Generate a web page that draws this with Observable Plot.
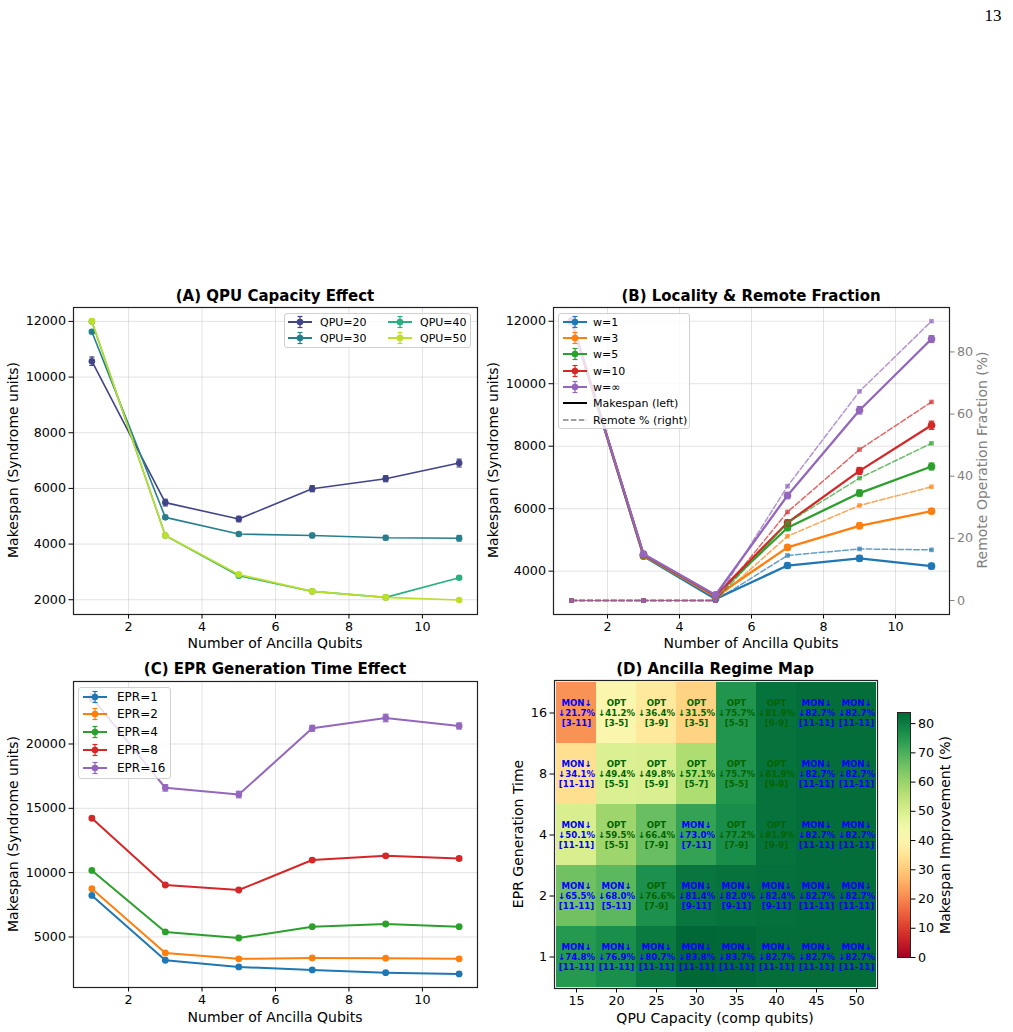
<!DOCTYPE html>
<html>
<head>
<meta charset="utf-8">
<script src="https://cdn.jsdelivr.net/npm/d3@7"></script>
<script src="https://cdn.jsdelivr.net/npm/@observablehq/plot@0.6"></script>
<style>
  body { margin: 0; background: #fff; }
  #root { position: relative; width: 1013px; height: 1032px; overflow: hidden; background: #fff;
          font-family: "DejaVu Sans", sans-serif; color: #000; }
  .lbl { position: absolute; white-space: nowrap; line-height: 1; }
  .legend { position: absolute; box-sizing: border-box; border: 1px solid #d0d0d0; border-radius: 3px;
            background: rgba(255,255,255,0.8); }
  #root svg text { font-family: "DejaVu Sans", sans-serif; }
</style>
</head>
<body>
<div id="root"></div>
<script>
// ---------------- DATA ----------------
const ancilla = [1, 3, 5, 7, 9, 11];
const xTicks = [2, 4, 6, 8, 10];

// (A) QPU capacity effect
const qpuLabels = ["QPU=20", "QPU=30", "QPU=40", "QPU=50"];
const qpu20 = [10570, 5490, 4900, 5990, 6350, 6910];
const qpu30 = [11630, 4960, 4360, 4310, 4230, 4210];
const qpu40 = [12000, 4310, 2860, 2300, 2085, 2790];
const qpu50 = [12010, 4310, 2910, 2300, 2085, 1990];
const qpu20Err = [150, 120, 100, 110, 110, 140];
const qpu30Err = [60, 70, 60, 80, 80, 100];
const qpu40Err = [40, 40, 60, 50, 40, 60];
const qpu50Err = [40, 40, 40, 40, 40, 40];
const aYTicks = [2000, 4000, 6000, 8000, 10000, 12000];

// (B) Locality & remote fraction
const wLabels = ["w=1", "w=3", "w=5", "w=10", "w=\u221e"];
const makespanW1 = [12000, 4480, 3110, 4180, 4410, 4160];
const makespanW3 = [12000, 4500, 3180, 4760, 5450, 5920];
const makespanW5 = [12000, 4520, 3220, 5390, 6500, 7350];
const makespanW10 = [12000, 4530, 3220, 5550, 7210, 8670];
const makespanWinf = [12000, 4550, 3240, 6420, 9150, 11430];
const makespanW1Err = [80, 60, 50, 80, 90, 90];
const makespanW3Err = [80, 60, 50, 80, 90, 80];
const makespanW5Err = [80, 60, 50, 90, 100, 110];
const makespanW10Err = [80, 60, 50, 90, 110, 130];
const makespanWinfErr = [80, 60, 50, 100, 120, 110];
const remoteW1 = [0, 0, 0, 14.5, 16.6, 16.3];
const remoteW3 = [0, 0, 0, 20.7, 30.6, 36.6];
const remoteW5 = [0, 0, 0, 25.0, 39.4, 50.6];
const remoteW10 = [0, 0, 0, 28.5, 48.6, 63.9];
const remoteWinf = [0, 0, 0, 36.8, 67.3, 89.9];
const bYTicks = [4000, 6000, 8000, 10000, 12000];
const bRightTicks = [0, 20, 40, 60, 80];

// (C) EPR generation time effect
const eprLabels = ["EPR=1", "EPR=2", "EPR=4", "EPR=8", "EPR=16"];
const epr1 = [8230, 3190, 2670, 2440, 2230, 2130];
const epr2 = [8750, 3760, 3300, 3370, 3350, 3300];
const epr4 = [10170, 5390, 4920, 5800, 6010, 5800];
const epr8 = [14230, 9040, 8650, 10980, 11310, 11100];
const epr16 = [23600, 16590, 16070, 21220, 22020, 21400];
const epr1Err = [60, 50, 40, 40, 40, 40];
const epr2Err = [60, 50, 40, 40, 40, 40];
const epr4Err = [80, 60, 60, 60, 70, 60];
const epr8Err = [120, 100, 100, 120, 130, 120];
const epr16Err = [300, 250, 250, 230, 290, 230];
const cYTicks = [5000, 10000, 15000, 20000];

// (D) Ancilla regime map
const qpuCaps = [15, 20, 25, 30, 35, 40, 45, 50];
const eprTimes = [16, 8, 4, 2, 1];
const improvements = [
  [21.7, 41.2, 36.4, 31.5, 75.7, 81.9, 82.7, 82.7],
  [34.1, 49.4, 49.8, 57.1, 75.7, 81.9, 82.7, 82.7],
  [50.1, 59.5, 66.4, 73.0, 77.2, 81.9, 82.7, 82.7],
  [65.5, 68.0, 76.6, 81.4, 82.0, 82.4, 82.7, 82.7],
  [74.8, 76.9, 80.7, 83.8, 83.7, 82.7, 82.7, 82.7]
];
const regimes = [
  ["MON\u2193", "OPT", "OPT", "OPT", "OPT", "OPT", "MON\u2193", "MON\u2193"],
  ["MON\u2193", "OPT", "OPT", "OPT", "OPT", "OPT", "MON\u2193", "MON\u2193"],
  ["MON\u2193", "OPT", "OPT", "MON\u2193", "OPT", "OPT", "MON\u2193", "MON\u2193"],
  ["MON\u2193", "MON\u2193", "OPT", "MON\u2193", "MON\u2193", "MON\u2193", "MON\u2193", "MON\u2193"],
  ["MON\u2193", "MON\u2193", "MON\u2193", "MON\u2193", "MON\u2193", "MON\u2193", "MON\u2193", "MON\u2193"]
];
const ranges = [
  ["3-11", "3-5", "3-9", "3-5", "5-5", "9-9", "11-11", "11-11"],
  ["11-11", "5-5", "5-9", "5-7", "5-5", "9-9", "11-11", "11-11"],
  ["11-11", "5-5", "7-9", "7-11", "7-9", "9-9", "11-11", "11-11"],
  ["11-11", "5-11", "7-9", "9-11", "9-11", "9-11", "11-11", "11-11"],
  ["11-11", "11-11", "11-11", "11-11", "11-11", "11-11", "11-11", "11-11"]
];
const colorbarTicks = [0, 10, 20, 30, 40, 50, 60, 70, 80];

// ---------------- STYLE ----------------
const viridisColors = ["#414487", "#277f8e", "#2ab07f", "#bddf26"];
const tab10 = ["#1f77b4", "#ff7f0e", "#2ca02c", "#d62728", "#9467bd"];
const FONT = "DejaVu Sans";
const TICK_FS = 12.7;
const root = document.getElementById("root");

function rowsOf(values, errs) {
  return ancilla.map((x, j) => ({ x, y: values[j], e: errs ? errs[j] : 0 }));
}

function errSeriesMarks(rows, color, lw, r, cap) {
  return [
    Plot.ruleX(rows, { x: "x", y1: d => d.y - d.e, y2: d => d.y + d.e, stroke: color, strokeWidth: 1.2 }),
    Plot.link(rows, { x1: d => d.x - cap, x2: d => d.x + cap, y1: d => d.y + d.e, y2: d => d.y + d.e, stroke: color, strokeWidth: 1.2 }),
    Plot.link(rows, { x1: d => d.x - cap, x2: d => d.x + cap, y1: d => d.y - d.e, y2: d => d.y - d.e, stroke: color, strokeWidth: 1.2 }),
    Plot.line(rows, { x: "x", y: "y", stroke: color, strokeWidth: lw }),
    Plot.dot(rows, { x: "x", y: "y", fill: color, r })
  ];
}

function place(node, left, top) {
  node.style.position = "absolute";
  node.style.left = left + "px";
  node.style.top = top + "px";
  root.appendChild(node);
}

function baseStyle() {
  return `font-family: ${FONT}; font-size: ${TICK_FS}px; background: transparent; overflow: visible; max-width: none; color: #000;`;
}

const axOpts = { tickSize: 4.5, tickPadding: 3, label: null, fontSize: TICK_FS };

function text(str, cx, cy, opts = {}) {
  const d = document.createElement("div");
  d.className = "lbl";
  d.textContent = str;
  d.style.left = cx + "px";
  d.style.top = cy + "px";
  d.style.fontSize = (opts.size || 14) + "px";
  if (opts.bold) d.style.fontWeight = "bold";
  if (opts.color) d.style.color = opts.color;
  if (opts.family) d.style.fontFamily = opts.family;
  d.style.transform = "translate(-50%,-50%)" + (opts.rotate ? " rotate(-90deg)" : "");
  root.appendChild(d);
}

// legend swatches
function swatch(kind, color) {
  const ns = "http://www.w3.org/2000/svg";
  const s = document.createElementNS(ns, "svg");
  s.setAttribute("width", 26); s.setAttribute("height", 14);
  s.style.position = "absolute";
  s.style.overflow = "visible";
  let html = "";
  if (kind === "err") {
    html = `<line x1="1" x2="25" y1="7" y2="7" stroke="${color}" stroke-width="2"/>
      <line x1="13" x2="13" y1="1.5" y2="12.5" stroke="${color}" stroke-width="1.2"/>
      <line x1="10.5" x2="15.5" y1="1.5" y2="1.5" stroke="${color}" stroke-width="1.2"/>
      <line x1="10.5" x2="15.5" y1="12.5" y2="12.5" stroke="${color}" stroke-width="1.2"/>
      <circle cx="13" cy="7" r="3.3" fill="${color}"/>`;
  } else if (kind === "solid") {
    html = `<line x1="1" x2="25" y1="7" y2="7" stroke="${color}" stroke-width="2"/>`;
  } else {
    html = `<line x1="1" x2="25" y1="7" y2="7" stroke="${color}" stroke-width="1.5" stroke-dasharray="5.5,2.4"/>`;
  }
  s.innerHTML = html;
  return s;
}

function legend(box, items, fs) {
  const b = document.createElement("div");
  b.className = "legend";
  b.style.left = box.left + "px"; b.style.top = box.top + "px";
  b.style.width = box.w + "px"; b.style.height = box.h + "px";
  root.appendChild(b);
  for (const it of items) {
    const sw = swatch(it.kind, it.color);
    sw.style.left = it.sx + "px"; sw.style.top = (it.cy - 7) + "px";
    root.appendChild(sw);
    const t = document.createElement("div");
    t.className = "lbl";
    t.textContent = it.label;
    t.style.left = it.tx + "px"; t.style.top = it.cy + "px";
    t.style.fontSize = fs + "px";
    t.style.transform = "translateY(-50%)";
    root.appendChild(t);
  }
}

const fmtInt = d => String(d);

// ---------------- PANEL A ----------------
{
  const series = [
    [qpu20, qpu20Err], [qpu30, qpu30Err], [qpu40, qpu40Err], [qpu50, qpu50Err]
  ];
  const marks = [
    Plot.gridX(xTicks, { stroke: "#b0b0b0", strokeOpacity: 0.35 }),
    Plot.gridY(aYTicks, { stroke: "#b0b0b0", strokeOpacity: 0.35 })
  ];
  series.forEach(([v, e], i) => marks.push(...errSeriesMarks(rowsOf(v, e), viridisColors[i], 1.6, 3.3, 0.07)));
  marks.push(
    Plot.frame({ stroke: "#222", strokeWidth: 1.2 }),
    Plot.axisX({ ...axOpts, ticks: xTicks }),
    Plot.axisY({ ...axOpts, ticks: aYTicks, tickFormat: fmtInt })
  );
  const p = Plot.plot({
    width: 490, height: 370,
    marginLeft: 73, marginRight: 13, marginTop: 22, marginBottom: 41,
    x: { domain: [0.5, 11.5] },
    y: { domain: [1470, 12500] },
    style: baseStyle(),
    marks
  });
  place(p, 0, 285);
  text("(A) QPU Capacity Effect", 275, 296, { bold: true, size: 15 });
  text("Number of Ancilla Qubits", 275, 643, { size: 14 });
  text("Makespan (Syndrome units)", 13, 460, { size: 14, rotate: true });
  legend({ left: 284, top: 313, w: 187, h: 35 }, [
    { label: qpuLabels[0], kind: "err", color: viridisColors[0], sx: 287, tx: 320, cy: 321.5 },
    { label: qpuLabels[1], kind: "err", color: viridisColors[1], sx: 287, tx: 320, cy: 338 },
    { label: qpuLabels[2], kind: "err", color: viridisColors[2], sx: 387, tx: 420, cy: 321.5 },
    { label: qpuLabels[3], kind: "err", color: viridisColors[3], sx: 387, tx: 420, cy: 338 }
  ], 11);
}

// ---------------- PANEL B ----------------
{
  const mk = [[makespanW1, makespanW1Err], [makespanW3, makespanW3Err], [makespanW5, makespanW5Err], [makespanW10, makespanW10Err], [makespanWinf, makespanWinfErr]];
  const rem = [remoteW1, remoteW3, remoteW5, remoteW10, remoteWinf];
  const marks = [
    Plot.gridX(xTicks, { stroke: "#b0b0b0", strokeOpacity: 0.35 }),
    Plot.gridY(bYTicks, { stroke: "#b0b0b0", strokeOpacity: 0.35 })
  ];
  mk.forEach(([v, e], i) => marks.push(...errSeriesMarks(rowsOf(v, e), tab10[i], 2.3, 3.8, 0.08)));
  marks.push(
    Plot.axisX({ ...axOpts, ticks: xTicks }),
    Plot.axisY({ ...axOpts, ticks: bYTicks, tickFormat: fmtInt })
  );
  const p = Plot.plot({
    width: 533, height: 370,
    marginLeft: 73, marginRight: 64, marginTop: 22, marginBottom: 41,
    x: { domain: [0.5, 11.5] },
    y: { domain: [2612, 12440] },
    style: baseStyle(),
    marks
  });
  place(p, 480, 285);

  const marks2 = [];
  rem.forEach((v, i) => {
    const rows = rowsOf(v);
    marks2.push(
      Plot.line(rows, { x: "x", y: "y", stroke: tab10[i], strokeWidth: 1.5, strokeOpacity: 0.7, strokeDasharray: "5.5,2.4" }),
      Plot.dot(rows, { x: "x", y: "y", fill: tab10[i], fillOpacity: 0.7, symbol: "square", r: 2.6 })
    );
  });
  marks2.push(
    Plot.frame({ stroke: "#222", strokeWidth: 1.2 }),
    Plot.axisY({ ...axOpts, anchor: "right", ticks: bRightTicks, color: "#808080" })
  );
  const p2 = Plot.plot({
    width: 533, height: 370,
    marginLeft: 73, marginRight: 64, marginTop: 22, marginBottom: 41,
    x: { domain: [0.5, 11.5], axis: null },
    y: { domain: [-4.5, 94.3], axis: null },
    style: baseStyle(),
    marks: marks2
  });
  place(p2, 480, 285);

  text("(B) Locality & Remote Fraction", 751, 296, { bold: true, size: 15 });
  text("Number of Ancilla Qubits", 751, 643, { size: 14 });
  text("Makespan (Syndrome units)", 493, 460, { size: 14, rotate: true });
  text("Remote Operation Fraction (%)", 982, 460, { size: 14, rotate: true, color: "#808080" });
  const items = wLabels.map((l, i) => ({ label: l, kind: "err", color: tab10[i], sx: 562, tx: 593, cy: 321.7 + 16.3 * i }));
  items.push({ label: "Makespan (left)", kind: "solid", color: "#000", sx: 562, tx: 593, cy: 321.7 + 16.3 * 5 });
  items.push({ label: "Remote % (right)", kind: "dash", color: "#808080", sx: 562, tx: 593, cy: 321.7 + 16.3 * 6 });
  legend({ left: 558, top: 313, w: 132, h: 116 }, items, 11);
}

// ---------------- PANEL C ----------------
{
  const series = [[epr1, epr1Err], [epr2, epr2Err], [epr4, epr4Err], [epr8, epr8Err], [epr16, epr16Err]];
  const marks = [
    Plot.gridX(xTicks, { stroke: "#b0b0b0", strokeOpacity: 0.35 }),
    Plot.gridY(cYTicks, { stroke: "#b0b0b0", strokeOpacity: 0.35 })
  ];
  series.forEach(([v, e], i) => marks.push(...errSeriesMarks(rowsOf(v, e), tab10[i], 2, 3.4, 0.08)));
  marks.push(
    Plot.frame({ stroke: "#222", strokeWidth: 1.2 }),
    Plot.axisX({ ...axOpts, ticks: xTicks }),
    Plot.axisY({ ...axOpts, ticks: cYTicks, tickFormat: fmtInt })
  );
  const p = Plot.plot({
    width: 490, height: 377,
    marginLeft: 73, marginRight: 13, marginTop: 26, marginBottom: 45,
    x: { domain: [0.5, 11.5] },
    y: { domain: [1074, 24857] },
    style: baseStyle(),
    marks
  });
  place(p, 0, 655);
  text("(C) EPR Generation Time Effect", 275, 669, { bold: true, size: 15 });
  text("Number of Ancilla Qubits", 275, 1017, { size: 14 });
  text("Makespan (Syndrome units)", 13, 834, { size: 14, rotate: true });
  legend({ left: 78, top: 687, w: 93, h: 92 },
    eprLabels.map((l, i) => ({ label: l, kind: "err", color: tab10[i], sx: 82, tx: 117, cy: 696.7 + 17.7 * i })), 12);
}

// ---------------- PANEL D ----------------
{
  const cells = [];
  eprTimes.forEach((e, i) => qpuCaps.forEach((q, j) => cells.push({
    q: String(q), e: String(e), v: improvements[i][j], reg: regimes[i][j], rng: ranges[i][j]
  })));
  const label = d => `${d.reg}\n\u2193${d.v.toFixed(1)}%\n[${d.rng}]`;
  const p = Plot.plot({
    width: 400, height: 377,
    marginLeft: 64, marginRight: 13, marginTop: 25, marginBottom: 44,
    x: { type: "band", domain: qpuCaps.map(String), padding: 0 },
    y: { type: "band", domain: eprTimes.map(String), padding: 0 },
    color: { type: "linear", scheme: "RdYlGn", domain: [0, 83.8] },
    style: baseStyle(),
    marks: [
      Plot.cell(cells, { x: "q", y: "e", fill: "v" }),
      Plot.text(cells.filter(d => d.reg !== "OPT"), { x: "q", y: "e", text: label, fill: "#0000ff", fontWeight: "bold", fontSize: 8.6, lineHeight: 1.16 }),
      Plot.text(cells.filter(d => d.reg === "OPT"), { x: "q", y: "e", text: label, fill: "#006400", fontWeight: "bold", fontSize: 8.6, lineHeight: 1.16 }),
      Plot.frame({ stroke: "#222", strokeWidth: 1.2 }),
      Plot.axisX(axOpts),
      Plot.axisY(axOpts)
    ]
  });
  place(p, 490, 655);
  text("(D) Ancilla Regime Map", 715, 669, { bold: true, size: 15 });
  text("QPU Capacity (comp qubits)", 715, 1018, { size: 14 });
  text("EPR Generation Time", 518, 834, { size: 14, rotate: true });

  // colorbar
  const cb = Plot.plot({
    width: 60, height: 270,
    marginLeft: 17, marginRight: 30, marginTop: 12, marginBottom: 13,
    x: { domain: [0, 1], axis: null },
    y: { domain: [0, 83.8], axis: null },
    color: { type: "linear", scheme: "RdYlGn", domain: [0, 83.8] },
    style: baseStyle(),
    marks: [
      Plot.raster({ x1: 0, x2: 1, y1: 0, y2: 83.8, fill: (x, y) => y, pixelSize: 1 }),
      Plot.frame({ stroke: "#222", strokeWidth: 1 }),
      Plot.axisY({ ...axOpts, anchor: "right", ticks: colorbarTicks })
    ]
  });
  place(cb, 880, 700);
  text("Makespan Improvement (%)", 945, 835, { size: 14, rotate: true });
}

// page number
text("13", 993, 15, { size: 17, family: "'Liberation Serif', serif" });
</script>
</body>
</html>
